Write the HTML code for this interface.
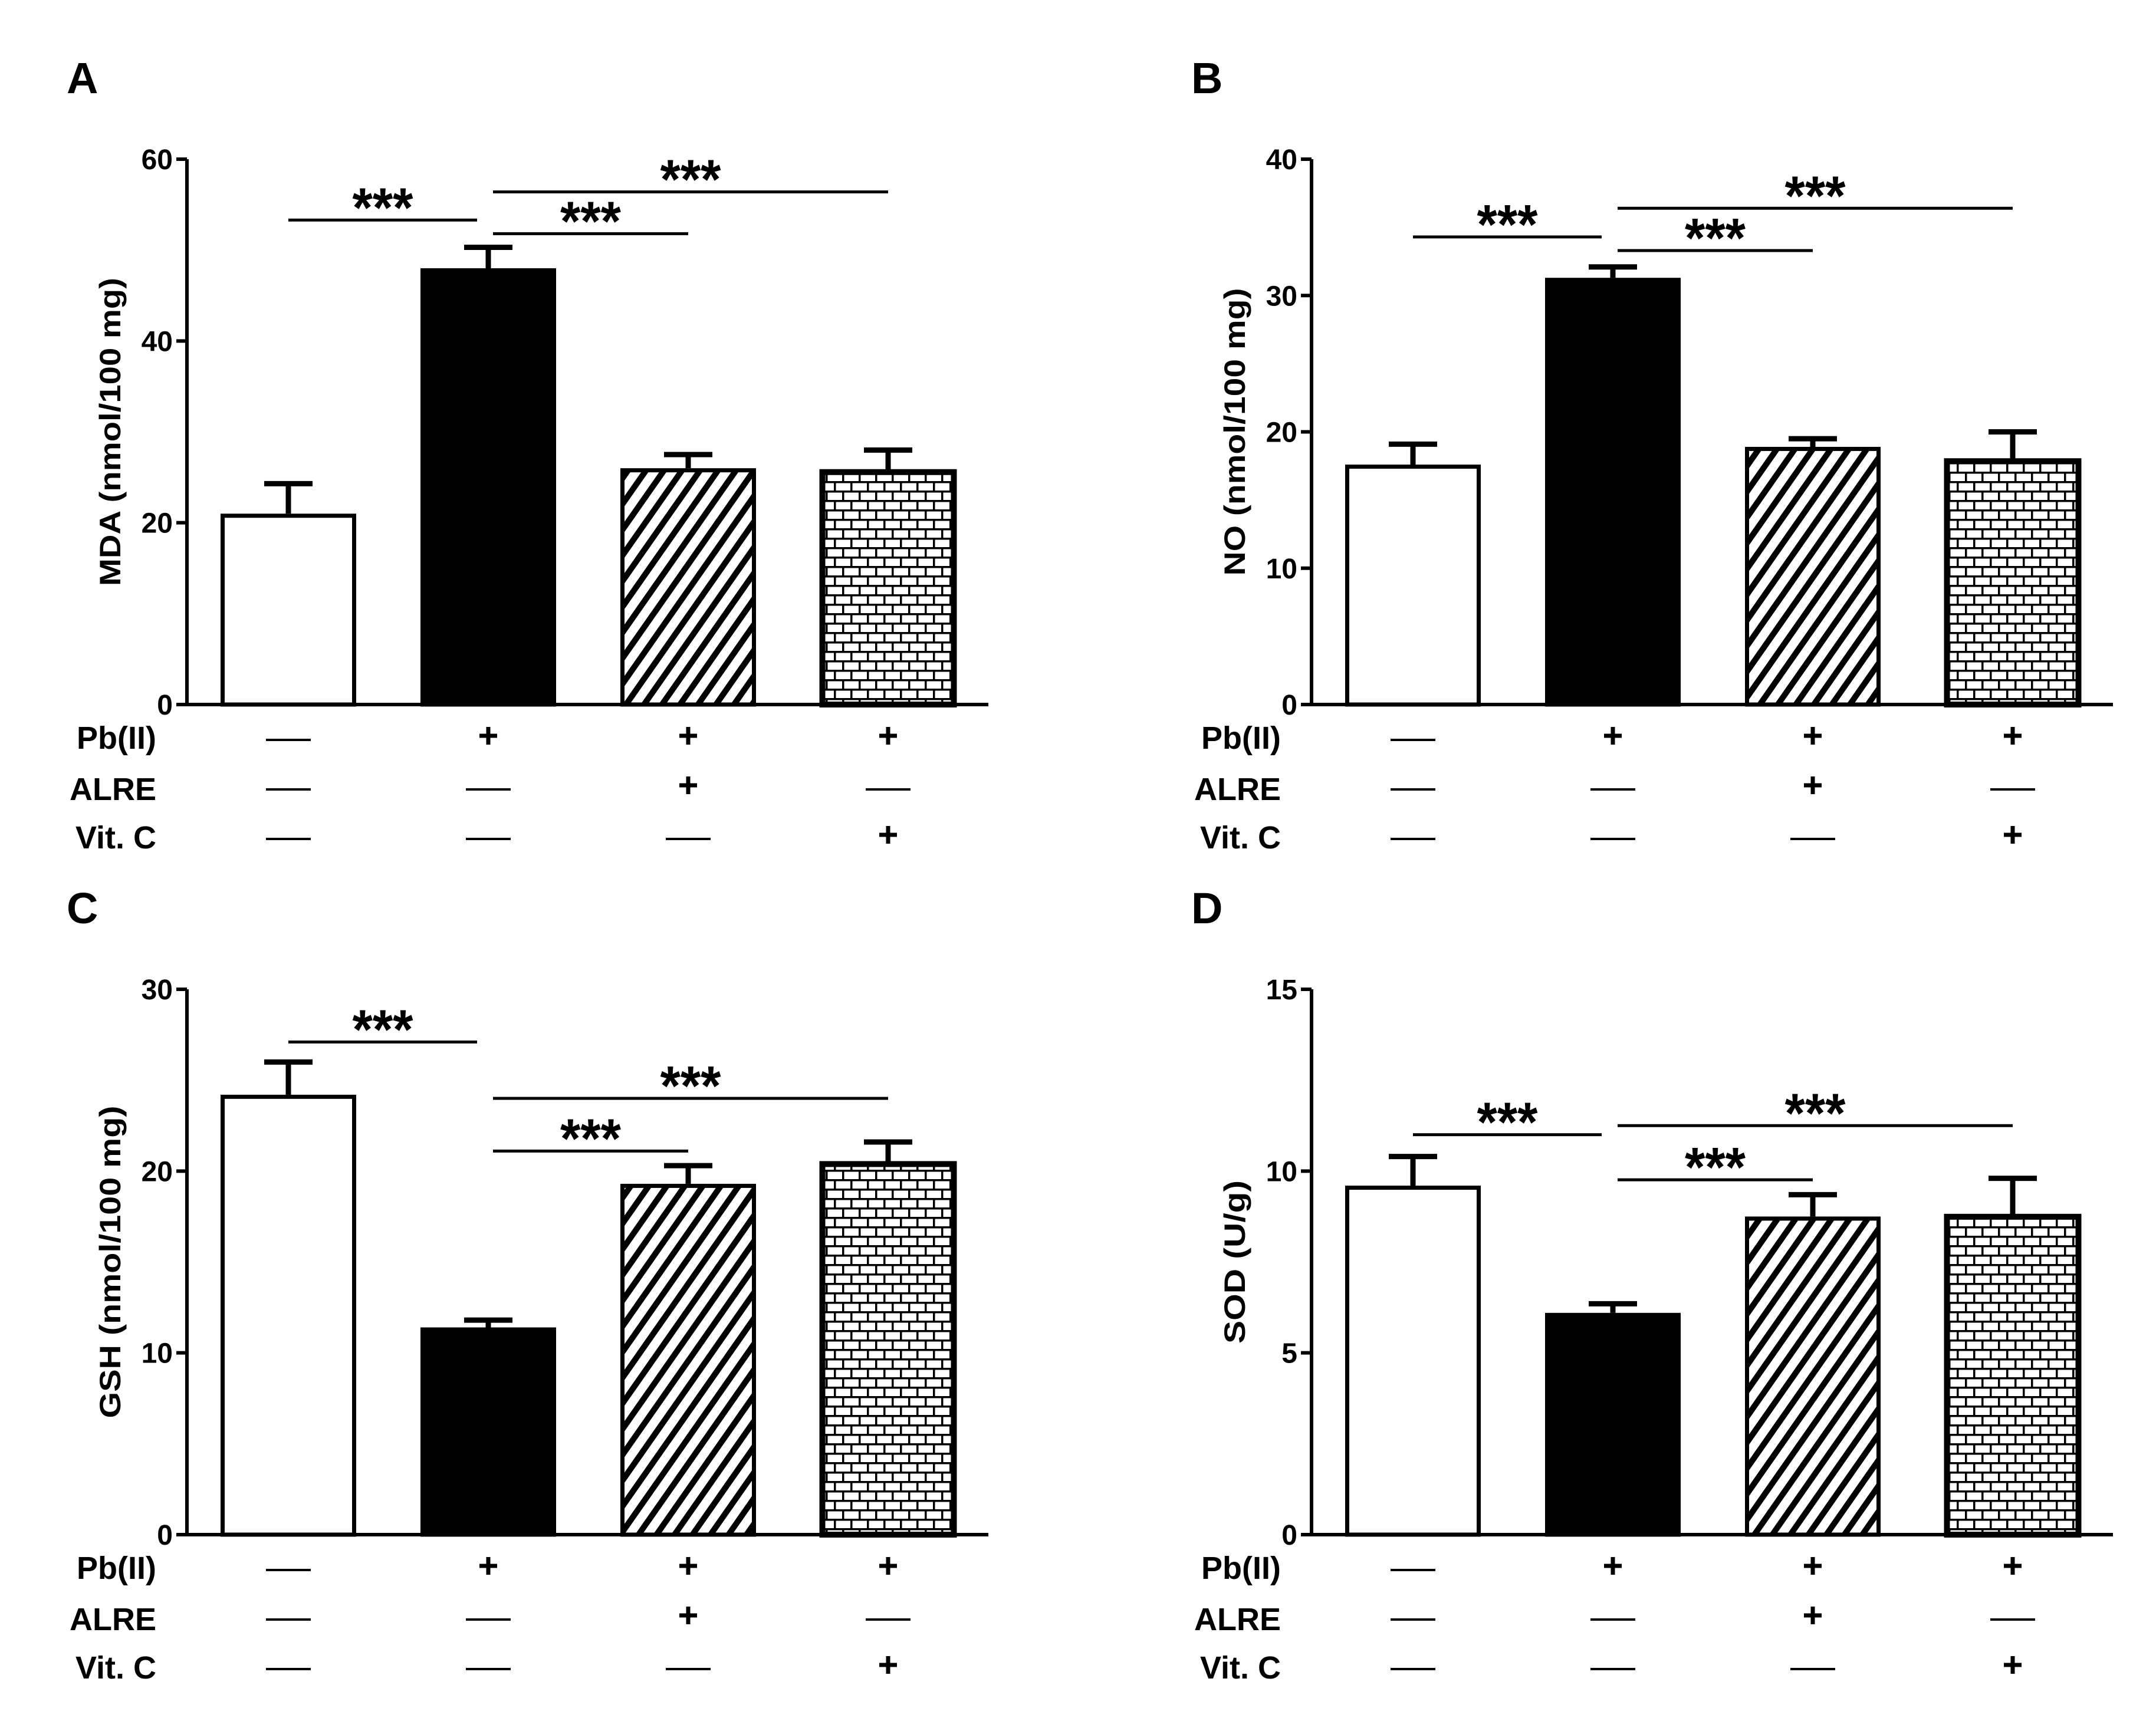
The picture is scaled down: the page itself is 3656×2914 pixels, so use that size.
<!DOCTYPE html>
<html><head><meta charset="utf-8"><style>html,body{margin:0;padding:0;background:#fff}svg{display:block}text{font-family:"Liberation Sans",Arial,sans-serif;font-weight:bold;fill:#000}</style></head>
<body>
<svg id="fig" width="3656" height="2914" viewBox="0 0 3656 2914" xmlns="http://www.w3.org/2000/svg">
<defs>
<pattern id="hatch" patternUnits="userSpaceOnUse" width="25" height="25" patternTransform="rotate(35)">
<rect width="25" height="25" fill="#fff"/><rect x="0" y="0" width="10" height="25" fill="#000"/>
</pattern>
<pattern id="brick" patternUnits="userSpaceOnUse" width="28" height="32">
<rect width="28" height="32" fill="#fff"/>
<rect x="0" y="0" width="28" height="3.5" fill="#000"/>
<rect x="0" y="16" width="28" height="3.5" fill="#000"/>
<rect x="0" y="0" width="3.5" height="16" fill="#000"/>
<rect x="14" y="16" width="3.5" height="16" fill="#000"/>
</pattern>
</defs>
</svg>
<script>
const groups = ['Control','Pb(II)','Pb(II)+ALRE','Pb(II)+Vit. C'];
const mdaValues = [21, 48, 26, 25.8];
const mdaErrors = [3.3, 2.3, 1.5, 2.2];
const noValues = [17.6, 31.3, 18.9, 18.0];
const noErrors = [1.5, 0.8, 0.6, 2.0];
const gshValues = [24.2, 11.4, 19.3, 20.5];
const gshErrors = [1.8, 0.4, 1.0, 1.1];
const sodValues = [9.6, 6.1, 8.75, 8.8];
const sodErrors = [0.8, 0.25, 0.6, 1.0];
const mdaTicks = [0, 20, 40, 60];
const noTicks = [0, 10, 20, 30, 40];
const gshTicks = [0, 10, 20, 30];
const sodTicks = [0, 5, 10, 15];
const mdaSig = [[0,1,53.3],[1,2,51.8],[1,3,56.4]];
const noSig = [[0,1,34.3],[1,2,33.3],[1,3,36.4]];
const gshSig = [[0,1,27.1],[1,2,21.1],[1,3,24.0]];
const sodSig = [[0,1,11.0],[1,2,9.76],[1,3,11.25]];
const pbRow = [0,1,1,1];
const alreRow = [0,0,1,0];
const vitcRow = [0,0,0,1];
const rowLabels = ['Pb(II)','ALRE','Vit. C'];

const NS='http://www.w3.org/2000/svg';
const svg=document.getElementById('fig');
function mk(tag,attrs,parent){const e=document.createElementNS(NS,tag);for(const k in attrs)e.setAttribute(k,attrs[k]);(parent||svg).appendChild(e);return e;}
const fills=['#fff','#000','url(#hatch)','url(#brick)'];

function panel(letter,ox,oy,title,titleLen,values,errors,ticks,sig,key){
  const g=mk('g',{});
  
  
  const ax=317+ox, top=270+oy, base=1195+oy, right=1676+ox;
  const ymax=ticks[ticks.length-1];
  const y=v=>base-(v/ymax)*(base-top);
  const cx=i=>ax+172+i*339;
  const L=mk('text',{x:113+ox,y:158+oy,'font-size':74},g);L.textContent=letter;
  
  
  values.forEach((v,i)=>{
    const bw=230,x0=cx(i)-bw/2,yt=y(v);
    const r=mk('rect',{x:x0+3.5,y:yt+3.5,width:bw-7,height:base-yt-3.5,fill:fills[i],stroke:'#000','stroke-width':i===3?10:7},g);
    
    
    const ye=y(v+errors[i]);
    const eb=mk('path',{d:`M${cx(i)} ${yt} V${ye} M${cx(i)-41} ${ye} H${cx(i)+41}`,stroke:'#000','stroke-width':9,fill:'none'},g);
    
    
  });
  const axl=mk('path',{d:`M${ax} ${top} V${base} M${ax-18} ${base} H${right}`,stroke:'#000','stroke-width':6,fill:'none'},g);
  
  
  ticks.forEach(t=>{
    mk('line',{x1:ax-18,x2:ax,y1:y(t),y2:y(t),stroke:'#000','stroke-width':6},g);
    const tl=mk('text',{x:ax-24,y:y(t)+17,'font-size':48,'text-anchor':'end'},g);tl.textContent=t;
    
    
  });
  const cy=(top+base)/2;
  const yt=mk('text',{x:0,y:0,'font-size':50,'text-anchor':'middle',textLength:titleLen,lengthAdjust:'spacingAndGlyphs',transform:`translate(${204+ox},${cy}) rotate(-90)`},g);
  yt.textContent=title;
  
  
  sig.forEach(s=>{
    const [i,j,lv]=s;
    const x1=i===0?cx(0):cx(1)+8;
    const x2=j===1?cx(1)-19:cx(j);
    const ly=y(lv);
    const sl=mk('line',{x1:x1,x2:x2,y1:ly,y2:ly,stroke:'#000','stroke-width':5},g);
    
    
    const st=mk('text',{x:(x1+x2)/2,y:ly+11,'font-size':95,'text-anchor':'middle',textLength:103,lengthAdjust:'spacingAndGlyphs'},g);
    st.textContent='***';
    
    
  });
  const rows=[pbRow,alreRow,vitcRow];
  const rowY=[1250+oy,1334+oy,1418+oy];
  const labY=[1270+oy,1357+oy,1439+oy];
  rows.forEach((row,r)=>{
    const rl=mk('text',{x:265+ox,y:labY[r],'font-size':54,'text-anchor':'end'},g);rl.textContent=rowLabels[r];
    
    
    row.forEach((m,i)=>{
      const c=cx(i);
      if(m){
        const p=mk('path',{d:`M${c-15} ${rowY[r]-2} H${c+15} M${c} ${rowY[r]-17} V${rowY[r]+13}`,stroke:'#000','stroke-width':7,fill:'none'},g);
        
        
      } else {
        const d=mk('line',{x1:c-38,x2:c+38,y1:rowY[r]+5,y2:rowY[r]+5,stroke:'#000','stroke-width':4},g);
        
        
      }
    });
  });
}
panel('A',0,0,'MDA (nmol/100 mg)',523,mdaValues,mdaErrors,mdaTicks,mdaSig,'mda');
panel('B',1907,0,'NO (nmol/100 mg)',488,noValues,noErrors,noTicks,noSig,'no');
panel('C',0,1408,'GSH (nmol/100 mg)',530,gshValues,gshErrors,gshTicks,gshSig,'gsh');
panel('D',1907,1408,'SOD (U/g)',277,sodValues,sodErrors,sodTicks,sodSig,'sod');
</script>
</body></html>
